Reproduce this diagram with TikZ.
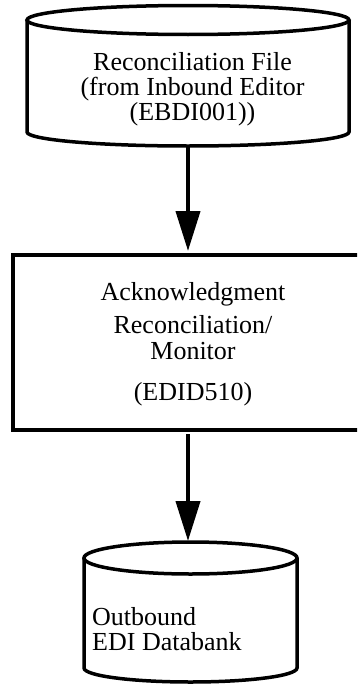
\documentclass[tikz,border=0pt]{standalone}
\usepackage{fontspec}
\setmainfont{Liberation Serif}
\usetikzlibrary{arrows.meta}

\tikzset{
  outline/.style={line width=3.5pt},
  procbox/.style={draw, line width=4pt, inner sep=0pt},
  label/.style={inner sep=0pt, font=\fontsize{26pt}{25pt}\selectfont},
  flow/.style={line width=4pt, -{Triangle[width=24pt,length=40pt]}},
}

\begin{document}
\begin{tikzpicture}[x=1pt,y=1pt]
  \useasboundingbox (0,0) rectangle (357,-688);
  \clip (0,0) rectangle (357,-688);

  % source data set: reconciliation file
  \draw[outline] (188,-20) ellipse [x radius=161pt, y radius=14.5pt];
  \draw[outline] (27,-20) -- (27,-132)
    arc [start angle=180, end angle=360, x radius=161pt, y radius=14pt]
    -- (349,-20);
  \coordinate (srcbot) at (188,-146);
  \node[label, anchor=north, align=center] (src) at (192.5,-52.3)
    {Reconciliation File\\(from Inbound Editor\\(EBDI001))};

  % processing step
  \node[procbox, minimum width=360pt, minimum height=175pt] (mon) at (193,-342.5) {};
  \node[label, anchor=north, align=center] (montext) at (193,-282.3)
    {Acknowledgment\\[8pt]Reconciliation/\\[1pt]Monitor\\[16pt](EDID510)};

  % target data set: outbound databank
  \draw[outline] (190.5,-558) ellipse [x radius=106.5pt, y radius=16pt];
  \draw[outline] (84,-558) -- (84,-668)
    arc [start angle=180, end angle=360, x radius=106.5pt, y radius=14pt]
    -- (297,-558);
  \coordinate (dsttop) at (188,-541);
  \node[label, anchor=north west, align=left] (dst) at (92,-607.3)
    {Outbound\\EDI Databank};

  % data flow
  \draw[flow] (srcbot) -- ([yshift=2pt]srcbot |- mon.north);
  \draw[flow] ([yshift=-2pt]srcbot |- mon.south) -- (dsttop);
\end{tikzpicture}
\end{document}
